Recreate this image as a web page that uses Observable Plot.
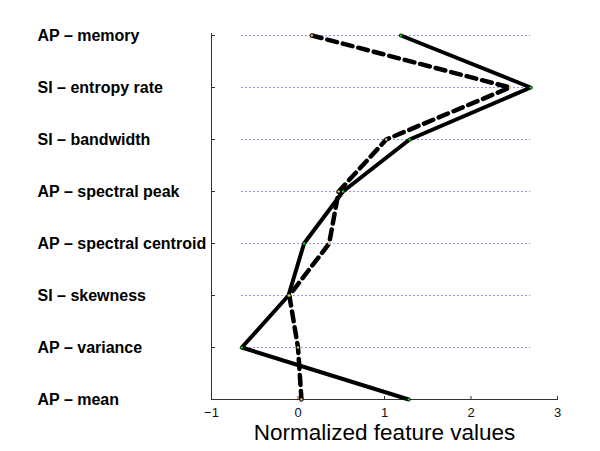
<!DOCTYPE html>
<html><head><meta charset="utf-8">
<script src="https://cdn.jsdelivr.net/npm/d3@7"></script>
<script src="https://cdn.jsdelivr.net/npm/@observablehq/plot@0.6"></script>
<style>body{margin:0;background:#fff}</style>
</head><body><div id="chart"></div>
<script>
const features = ["AP – memory","SI – entropy rate","SI – bandwidth","AP – spectral peak","AP – spectral centroid","SI – skewness","AP – variance","AP – mean"];
const solidValues = [1.19, 2.69, 1.29, 0.52, 0.07, -0.11, -0.65, 1.28];
const dashedValues = [0.16, 2.45, 1.02, 0.47, 0.36, -0.10, 0.00, 0.04];
const xTicks = [-1, 0, 1, 2, 3];
const xLabel = "Normalized feature values";

const solid = features.map((f, i) => ({f, v: solidValues[i]}));
const dashed = features.map((f, i) => ({f, v: dashedValues[i]}));
const all = solidValues.concat(dashedValues);
const lo = d3.min(all), hi = d3.max(all);

const chart = Plot.plot({
  width: 600, height: 451,
  marginLeft: 211, marginRight: 43, marginTop: 33, marginBottom: 51,
  style: {fontFamily: "'Liberation Sans', Arial, sans-serif", background: "#fff"},
  x: {domain: [-1, 3]},
  y: {type: "point", domain: features, padding: 0},
  marks: [
    Plot.ruleY(features, {y: d => d, x1: lo, x2: hi, stroke: "#6060ff", strokeOpacity: 0.9, strokeWidth: 1, strokeDasharray: "1.5,2.5"}),
    Plot.ruleX([-1], {x: d => d, stroke: "#333", strokeWidth: 1}),
    Plot.ruleY([features[features.length - 1]], {y: d => d, x1: -1, x2: 3, stroke: "#333", strokeWidth: 1}),
    Plot.axisX({ticks: xTicks, tickSize: -4, tickPadding: 11, stroke: "#333", color: "#111", fontSize: 13, tickFormat: d => d < 0 ? "−" + Math.abs(d) : String(d), label: null}),
    Plot.axisY({tickSize: -4, stroke: "#333", tickFormat: () => "", label: null}),
    Plot.text(features, {y: d => d, frameAnchor: "left", dx: -174, dy: 0, textAnchor: "start", fontWeight: "bold", fontSize: 16, fill: "#000"}),
    Plot.text([xLabel], {frameAnchor: "bottom", dy: 39, text: d => d, fontSize: 22.5, fill: "#000"}),
    Plot.line(dashed, {x: "v", y: "f", stroke: "#000", strokeWidth: 4.5, strokeDasharray: "10,6"}),
    Plot.line(solid, {x: "v", y: "f", stroke: "#000", strokeWidth: 4}),
    Plot.dot(solid, {x: "v", y: "f", r: 1.2, fill: "#00e000", stroke: null}),
    Plot.dot(dashed, {x: "v", y: "f", r: 1.2, fill: "#f5c06a", stroke: null})
  ]
});
document.getElementById("chart").appendChild(chart);
</script>
</body></html>
